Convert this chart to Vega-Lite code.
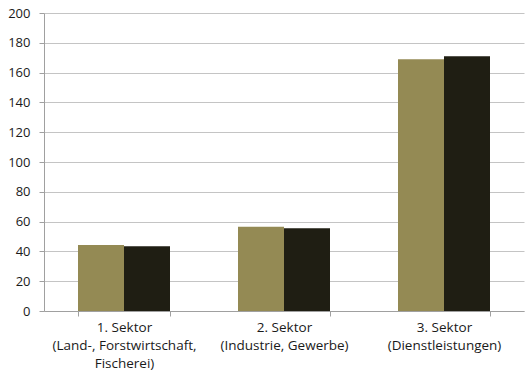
{
  "$schema": "https://vega.github.io/schema/vega-lite/v6.json",
  "autosize": {"type": "none"},
  "width": 480,
  "height": 298,
  "padding": {"left": 44, "top": 13, "right": 1, "bottom": 65},
  "background": "white",
  "data": {"values": [
    {"sektor": "1. Sektor|(Land-, Forstwirtschaft,|Fischerei)", "reihe": "A", "wert": 44.3},
    {"sektor": "1. Sektor|(Land-, Forstwirtschaft,|Fischerei)", "reihe": "B", "wert": 43.4},
    {"sektor": "2. Sektor|(Industrie, Gewerbe)", "reihe": "A", "wert": 56.6},
    {"sektor": "2. Sektor|(Industrie, Gewerbe)", "reihe": "B", "wert": 55.6},
    {"sektor": "3. Sektor|(Dienstleistungen)", "reihe": "A", "wert": 168.9},
    {"sektor": "3. Sektor|(Dienstleistungen)", "reihe": "B", "wert": 171.0}
  ]},
  "mark": {"type": "bar"},
  "encoding": {
    "x": {
      "field": "sektor", "type": "nominal", "sort": null,
      "scale": {"paddingInner": 0.425, "paddingOuter": 0.2125},
      "axis": {
        "title": null, "labelAngle": 0, "labelExpr": "split(datum.label, '|')",
        "tickBand": "extent", "tickSize": 5, "tickColor": "#a0a0a0",
        "domainColor": "#a0a0a0", "labelFont": "Open Sans", "labelFontSize": 13.5,
        "labelColor": "#1a1a1a", "labelLineHeight": 18, "labelPadding": 4, "grid": false
      }
    },
    "xOffset": {"field": "reihe", "type": "nominal"},
    "y": {
      "field": "wert", "type": "quantitative",
      "scale": {"domain": [0, 200], "nice": false},
      "axis": {
        "title": null, "values": [0, 20, 40, 60, 80, 100, 120, 140, 160, 180, 200],
        "tickSize": 5, "tickColor": "#a0a0a0", "domainColor": "#a0a0a0",
        "gridColor": "#c4c4c4", "labelFont": "Open Sans", "labelFontSize": 13,
        "labelColor": "#1a1a1a", "labelPadding": 9
      }
    },
    "color": {
      "field": "reihe", "type": "nominal",
      "scale": {"domain": ["A", "B"], "range": ["#948a54", "#1f1e13"]},
      "legend": null
    }
  },
  "config": {"view": {"stroke": null}}
}
